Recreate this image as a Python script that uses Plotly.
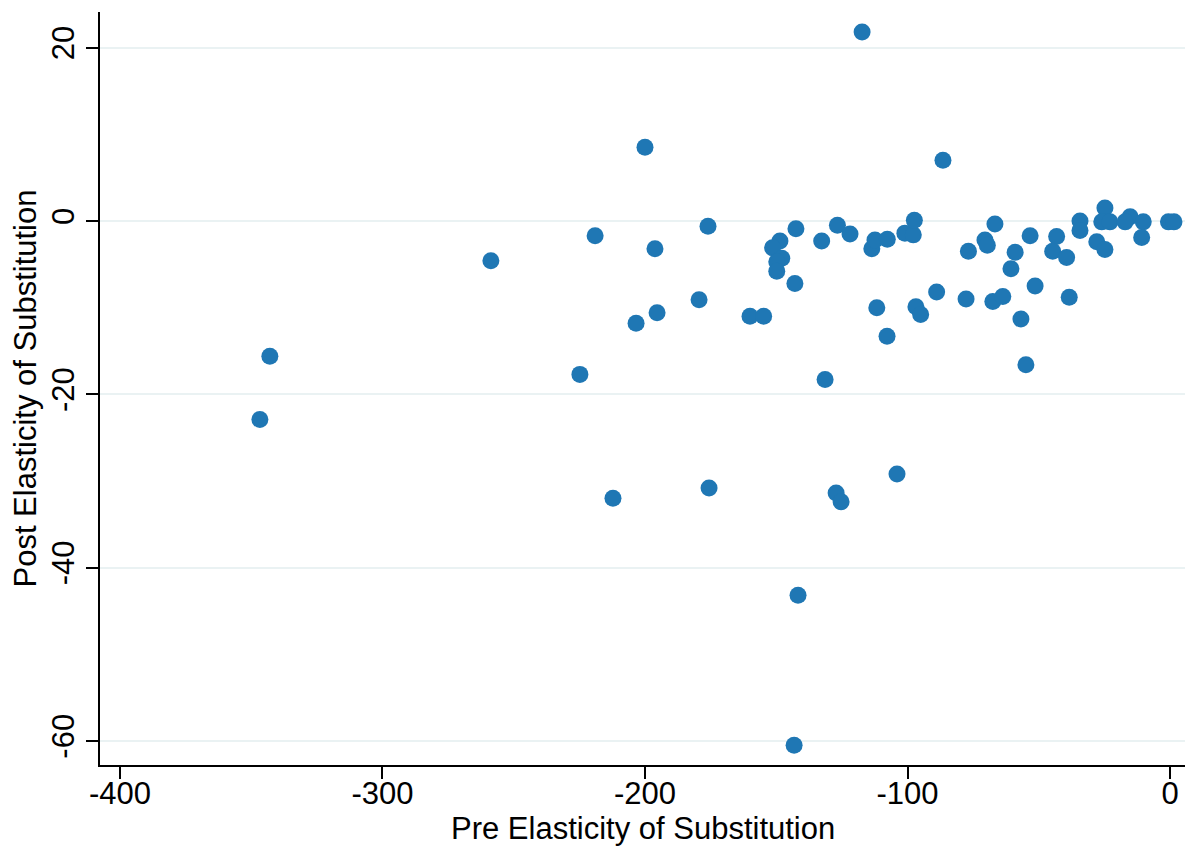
import plotly.graph_objects as go

pre_elasticity = [
    -117.3, -200.0, -86.5, -342.9, -346.7, -258.7, -219.0, -196.2, -176.0, -179.4,
    -203.4, -195.4, -224.8, -212.2, -175.6, -160.0, -154.8,
    -142.5, -148.6, -151.4, -147.9, -149.8, -149.8, -142.9, -132.7, -126.7, -121.9,
    -113.6, -112.4, -107.7, -101.0, -97.8, -97.4, -88.9, -111.7, -96.8, -95.0,
    -66.7, -70.5, -69.6, -76.8, -53.3, -59.0, -60.6, -43.2, -44.7, -39.4,
    -34.3, -34.3, -27.9, -24.8, -24.8, -26.0, -22.9, -15.2, -17.1, -10.2, -10.8,
    -0.6, 1.5, -77.7, -67.5, -63.7, -51.4, -38.4, -56.8,
    -54.9, -131.4, -107.8, -104.0, -127.2, -125.3, -141.7, -143.2,
]
post_elasticity = [
    21.8, 8.5, 7.0, -15.6, -22.9, -4.6, -1.7, -3.2, -0.6, -9.1,
    -11.8, -10.6, -17.7, -32.0, -30.8, -11.0, -11.0,
    -0.9, -2.3, -3.1, -4.3, -4.7, -5.8, -7.2, -2.3, -0.5, -1.5,
    -3.2, -2.2, -2.1, -1.4, -1.6, 0.1, -8.2, -10.0, -9.9, -10.8,
    -0.35, -2.2, -2.8, -3.5, -1.7, -3.6, -5.5, -1.8, -3.5, -4.2,
    0.0, -1.1, -2.4, -3.3, 1.5, -0.1, -0.1, 0.5, -0.1, -0.1, -1.9,
    -0.1, -0.1, -9.0, -9.3, -8.7, -7.5, -8.8, -11.3,
    -16.6, -18.3, -13.3, -29.2, -31.4, -32.4, -43.2, -60.5,
]

x_ticks = [-400, -300, -200, -100, 0]
y_ticks = [-60, -40, -20, 0, 20]
x_title = "Pre Elasticity of Substitution"
y_title = "Post Elasticity of Substitution"

font_family = "Liberation Sans, Arial, sans-serif"

fig = go.Figure(
    go.Scatter(
        x=pre_elasticity,
        y=post_elasticity,
        mode="markers",
        marker=dict(size=17, color="#1f77b4", line=dict(width=0)),
        showlegend=False,
    )
)

fig.update_layout(
    width=1187,
    height=848,
    margin=dict(l=100, r=2, t=12, b=83),
    paper_bgcolor="white",
    plot_bgcolor="white",
    font=dict(family=font_family, color="black"),
    annotations=[
        dict(text=x_title, xref="paper", yref="paper", x=0.5, y=-0.0837,
             xanchor="center", yanchor="middle", showarrow=False,
             font=dict(size=31)),
        dict(text=y_title, xref="paper", yref="paper", x=-0.0691, y=0.5,
             xanchor="center", yanchor="middle", showarrow=False,
             textangle=-90, font=dict(size=31)),
    ],
)

fig.update_xaxes(
    range=[-407.6, 5.7],
    tickvals=x_ticks,
    ticktext=[str(v) for v in x_ticks],
    automargin=False,
    showgrid=False,
    zeroline=False,
    showline=True,
    linecolor="black",
    linewidth=2,
    ticks="outside",
    ticklen=12,
    tickwidth=1.5,
    tickcolor="black",
    tickfont=dict(size=31),
    ticklabelstandoff=-12,
)

fig.update_yaxes(
    range=[-62.78, 24.12],
    tickvals=y_ticks,
    ticktext=[str(v) for v in y_ticks],
    tickangle=-90,
    automargin=False,
    showgrid=True,
    gridcolor="#eaf2f3",
    gridwidth=2,
    zeroline=False,
    showline=True,
    linecolor="black",
    linewidth=2,
    ticks="outside",
    ticklen=12,
    tickwidth=1.5,
    tickcolor="black",
    tickfont=dict(size=31),
)

fig.write_html("out.html", config={"displayModeBar": False})

with open("out.html", "r", encoding="utf-8") as f:
    html = f.read()
html = html.replace("<head>", "<head><style>html,body{margin:0;padding:0;overflow:hidden;}</style>", 1)
with open("out.html", "w", encoding="utf-8") as f:
    f.write(html)
